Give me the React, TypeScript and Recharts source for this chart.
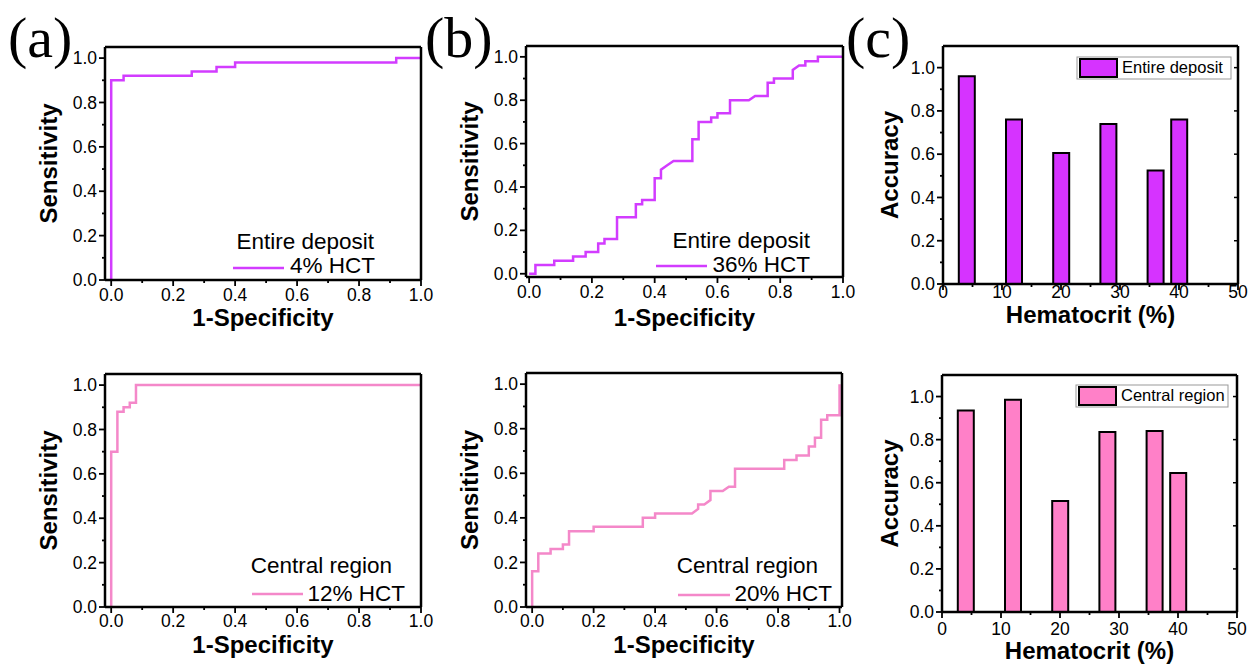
import { LineChart, Line, ComposedChart, Bar, XAxis, YAxis } from 'recharts'

// ROC curves, [1-specificity, sensitivity]
const ROC_ENTIRE_4 = [
  [0, 0], [0, 0.9], [0.04, 0.9], [0.04, 0.92], [0.26, 0.92], [0.26, 0.94], [0.34, 0.94],
  [0.34, 0.96], [0.4, 0.96], [0.4, 0.98], [0.92, 0.98], [0.92, 1], [1, 1],
]
const ROC_ENTIRE_36 = [
  [0, 0], [0.02, 0], [0.02, 0.04], [0.08, 0.04], [0.08, 0.06], [0.14, 0.06], [0.14, 0.08],
  [0.18, 0.08], [0.18, 0.1], [0.22, 0.1], [0.22, 0.14], [0.24, 0.14], [0.24, 0.16],
  [0.28, 0.16], [0.28, 0.26], [0.34, 0.26], [0.34, 0.32], [0.36, 0.32], [0.36, 0.34],
  [0.4, 0.34], [0.4, 0.44], [0.42, 0.44], [0.42, 0.48], [0.44, 0.5], [0.46, 0.52],
  [0.52, 0.52], [0.52, 0.62], [0.54, 0.62], [0.54, 0.7], [0.58, 0.7], [0.58, 0.72],
  [0.6, 0.72], [0.6, 0.74], [0.64, 0.74], [0.64, 0.8], [0.7, 0.8], [0.72, 0.82],
  [0.76, 0.82], [0.76, 0.88], [0.78, 0.88], [0.78, 0.9], [0.84, 0.9], [0.84, 0.94],
  [0.86, 0.96], [0.88, 0.96], [0.88, 0.98], [0.92, 0.98], [0.92, 1], [1, 1],
]
const ROC_CENTRAL_12 = [
  [0, 0], [0, 0.7], [0.02, 0.7], [0.02, 0.88], [0.04, 0.88], [0.04, 0.9], [0.06, 0.9],
  [0.06, 0.92], [0.08, 0.92], [0.08, 1], [1, 1],
]
const ROC_CENTRAL_20 = [
  [0, 0], [0, 0.16], [0.02, 0.16], [0.02, 0.24], [0.06, 0.24], [0.06, 0.26], [0.1, 0.26],
  [0.1, 0.28], [0.12, 0.28], [0.12, 0.34], [0.2, 0.34], [0.2, 0.36], [0.36, 0.36],
  [0.36, 0.4], [0.4, 0.4], [0.4, 0.42], [0.52, 0.42], [0.54, 0.44], [0.54, 0.46],
  [0.56, 0.46], [0.58, 0.48], [0.58, 0.52], [0.62, 0.52], [0.64, 0.54], [0.66, 0.54],
  [0.66, 0.62], [0.82, 0.62], [0.82, 0.66], [0.86, 0.66], [0.86, 0.68], [0.9, 0.68],
  [0.9, 0.72], [0.92, 0.72], [0.92, 0.76], [0.94, 0.76], [0.94, 0.84], [0.96, 0.84],
  [0.96, 0.86], [1, 0.86], [1, 1],
]

// accuracy vs hematocrit
const HCT_LEVELS = [4, 12, 20, 28, 36, 40]
const ACC_ENTIRE = [0.96, 0.76, 0.605, 0.74, 0.525, 0.76]
const ACC_CENTRAL = [0.935, 0.985, 0.515, 0.835, 0.84, 0.645]

const UNIT_TICKS = [0, 0.1, 0.2, 0.3, 0.4, 0.5, 0.6, 0.7, 0.8, 0.9, 1.0]
const UNIT_MAJOR = [0, 0.2, 0.4, 0.6, 0.8, 1.0]
const HCT_TICKS = [0, 5, 10, 15, 20, 25, 30, 35, 40, 45, 50]
const HCT_MAJOR = [0, 10, 20, 30, 40, 50]

const LINE_MAGENTA = '#d23cff'
const LINE_PINK = '#f488c9'
const BAR_MAGENTA = '#d633ff'
const BAR_PINK = '#ff80c8'

const AXIS = { stroke: '#000', strokeWidth: 2.5 }
const TITLE = { fontSize: 24, fontWeight: 'bold', fill: '#000' }

const evenTenth = (v: number) => Math.round(v * 10) % 2 === 0
const tens = (v: number) => v % 10 === 0
const fix1 = (v: number) => v.toFixed(1)

function BottomTick(props: any) {
  const { x, y, payload, major, fmt, gap } = props
  const big = major(payload.value)
  return (
    <g>
      <line x1={x} x2={x} y1={y} y2={y + (big ? 6 : 3)} stroke="#000" strokeWidth={1.8} />
      {big && (
        <text x={x} y={y + gap} textAnchor="middle" fontSize={17.5} fill="#000">
          {fmt(payload.value)}
        </text>
      )}
    </g>
  )
}

function LeftTick(props: any) {
  const { x, y, payload, major } = props
  const big = major(payload.value)
  return (
    <g>
      <line x1={x} x2={x - (big ? 6 : 3)} y1={y} y2={y} stroke="#000" strokeWidth={1.8} />
      {big && (
        <text x={x - 8} y={y} dy="0.35em" textAnchor="end" fontSize={17.5} fill="#000">
          {fix1(payload.value)}
        </text>
      )}
    </g>
  )
}

const TopInTick = (props: any) => (
  <line x1={props.x} x2={props.x} y1={props.y} y2={props.y + 4} stroke="#000" strokeWidth={1.5} />
)
const RightInTick = (props: any) => (
  <line x1={props.x} x2={props.x - 4} y1={props.y} y2={props.y} stroke="#000" strokeWidth={1.5} />
)

interface PanelProps {
  box: number[] // left, top, width, height of the chart on the page
  plot: number[] // x0, y0, x1, y1 of the plot frame on the page
  tickGap: number
  xTitleBase: number
  yTitleX: number
}

interface RocProps extends PanelProps {
  data: number[][]
  color: string
  xMin: number
  xMax: number
  yMin: number
}

function RocPanel({ box, plot, data, color, xMin, xMax, yMin, tickGap, xTitleBase, yTitleX }: RocProps) {
  const [L, T, W, H] = box
  const [x0, y0, x1, y1] = plot
  const rows = data.map(([fpr, tpr]) => ({ fpr, tpr }))
  return (
    <div style={{ position: 'absolute', left: L, top: T }}>
      <LineChart
        width={W}
        height={H}
        data={rows}
        margin={{ top: y0 - T - 1, right: L + W - x1 - 1, left: 0, bottom: 0 }}
      >
        <XAxis
          dataKey="fpr"
          type="number"
          domain={[xMin, xMax]}
          allowDataOverflow
          ticks={UNIT_TICKS}
          interval={0}
          height={T + H - y1}
          tickSize={0}
          tickMargin={0}
          axisLine={AXIS}
          tickLine={false}
          tick={(p: any) => <BottomTick {...p} major={evenTenth} fmt={fix1} gap={tickGap} />}
          label={{ value: '1-Specificity', position: 'insideBottom', offset: T + H - xTitleBase, ...TITLE }}
        />
        <XAxis
          xAxisId="top"
          orientation="top"
          type="number"
          domain={[xMin, xMax]}
          allowDataOverflow
          ticks={UNIT_MAJOR}
          height={1}
          axisLine={AXIS}
          tickLine={false}
          tick={false}
        />
        <YAxis
          type="number"
          domain={[yMin, 1.05]}
          allowDataOverflow
          ticks={UNIT_TICKS}
          interval={0}
          width={x0 - L}
          tickSize={0}
          tickMargin={0}
          axisLine={AXIS}
          tickLine={false}
          tick={(p: any) => <LeftTick {...p} major={evenTenth} />}
          label={{
            value: 'Sensitivity',
            angle: -90,
            position: 'insideLeft',
            offset: yTitleX - L,
            style: { textAnchor: 'middle' },
            ...TITLE,
          }}
        />
        <YAxis
          yAxisId="right"
          orientation="right"
          type="number"
          domain={[yMin, 1.05]}
          allowDataOverflow
          ticks={UNIT_MAJOR}
          width={1}
          axisLine={AXIS}
          tickLine={false}
          tick={false}
        />
        <Line
          dataKey="tpr"
          type="linear"
          stroke={color}
          strokeWidth={2.5}
          dot={false}
          activeDot={false}
          isAnimationActive={false}
        />
      </LineChart>
    </div>
  )
}

interface BarProps extends PanelProps {
  values: number[]
  fill: string
}

function AccuracyPanel({ box, plot, values, fill, tickGap, xTitleBase, yTitleX }: BarProps) {
  const [L, T, W, H] = box
  const [x0, y0, x1, y1] = plot
  const rows = HCT_LEVELS.map((hct, i) => ({ hct, acc: values[i] }))
  return (
    <div style={{ position: 'absolute', left: L, top: T }}>
      <ComposedChart
        width={W}
        height={H}
        data={rows}
        margin={{ top: y0 - T - 1, right: L + W - x1 - 1, left: 0, bottom: 0 }}
      >
        <XAxis
          dataKey="hct"
          type="number"
          domain={[0, 50]}
          allowDataOverflow
          ticks={HCT_TICKS}
          interval={0}
          height={T + H - y1}
          tickSize={0}
          tickMargin={0}
          axisLine={AXIS}
          tickLine={false}
          tick={(p: any) => <BottomTick {...p} major={tens} fmt={String} gap={tickGap} />}
          label={{ value: 'Hematocrit (%)', position: 'insideBottom', offset: T + H - xTitleBase, ...TITLE }}
        />
        <XAxis
          xAxisId="top"
          orientation="top"
          type="number"
          domain={[0, 50]}
          allowDataOverflow
          ticks={HCT_MAJOR}
          interval={0}
          height={1}
          tickSize={0}
          tickMargin={0}
          axisLine={AXIS}
          tickLine={false}
          tick={(p: any) => <TopInTick {...p} />}
        />
        <YAxis
          type="number"
          domain={[0, 1.1]}
          allowDataOverflow
          ticks={UNIT_TICKS}
          interval={0}
          width={x0 - L}
          tickSize={0}
          tickMargin={0}
          axisLine={AXIS}
          tickLine={false}
          tick={(p: any) => <LeftTick {...p} major={evenTenth} />}
          label={{
            value: 'Accuracy',
            angle: -90,
            position: 'insideLeft',
            offset: yTitleX - L,
            style: { textAnchor: 'middle' },
            ...TITLE,
          }}
        />
        <YAxis
          yAxisId="right"
          orientation="right"
          type="number"
          domain={[0, 1.1]}
          allowDataOverflow
          ticks={UNIT_MAJOR}
          interval={0}
          width={1}
          tickSize={0}
          tickMargin={0}
          axisLine={AXIS}
          tickLine={false}
          tick={(p: any) => <RightInTick {...p} />}
        />
        <Bar dataKey="acc" fill={fill} stroke="#000" strokeWidth={2} barSize={16} isAnimationActive={false} />
      </ComposedChart>
    </div>
  )
}

function RocKey({ title, titleEnd, titleBase, label, labelEnd, labelBase, lineX, lineY, color }: any) {
  return (
    <g fontSize={22.5} fill="#000">
      <text x={titleEnd} y={titleBase} textAnchor="end">{title}</text>
      <line x1={lineX[0]} x2={lineX[1]} y1={lineY} y2={lineY} stroke={color} strokeWidth={2.5} />
      <text x={labelEnd} y={labelBase} textAnchor="end">{label}</text>
    </g>
  )
}

function BarKey({ x, y, w, label, fill }: any) {
  return (
    <g>
      <rect x={x} y={y} width={w} height={22} fill="#fff" stroke="#999" strokeWidth={1} />
      <rect x={x + 3} y={y + 2} width={37} height={18} fill={fill} stroke="#000" strokeWidth={2} />
      <text x={x + 45} y={y + 16} fontSize={16.5} fill="#000">{label}</text>
    </g>
  )
}

export default function App() {
  return (
    <div
      style={{
        position: 'absolute',
        left: 0,
        top: 0,
        width: 1256,
        height: 664,
        background: '#fff',
        fontFamily: '"Liberation Sans", Arial, sans-serif',
      }}
    >
      <RocPanel box={[0, 40, 440, 300]} plot={[105, 47, 421, 280]} data={ROC_ENTIRE_4} color={LINE_MAGENTA}
        xMin={-0.02} xMax={1} yMin={0} tickGap={21} xTitleBase={326} yTitleX={48.5} />
      <RocPanel box={[420, 40, 440, 300]} plot={[526, 46, 843, 277]} data={ROC_ENTIRE_36} color={LINE_MAGENTA}
        xMin={-0.01} xMax={1} yMin={-0.015} tickGap={21} xTitleBase={326} yTitleX={469.5} />
      <RocPanel box={[0, 360, 440, 304]} plot={[105, 374, 421, 607]} data={ROC_CENTRAL_12} color={LINE_PINK}
        xMin={-0.02} xMax={1} yMin={0} tickGap={20} xTitleBase={653} yTitleX={48.5} />
      <RocPanel box={[420, 360, 440, 304]} plot={[526, 373, 842, 607]} data={ROC_CENTRAL_20} color={LINE_PINK}
        xMin={-0.02} xMax={1.008} yMin={0} tickGap={20} xTitleBase={653} yTitleX={469.5} />
      <AccuracyPanel box={[860, 30, 396, 320]} plot={[943, 46, 1238, 284]} values={ACC_ENTIRE} fill={BAR_MAGENTA}
        tickGap={14} xTitleBase={323} yTitleX={889} />
      <AccuracyPanel box={[860, 360, 396, 304]} plot={[942, 375, 1237, 612]} values={ACC_CENTRAL} fill={BAR_PINK}
        tickGap={23} xTitleBase={659} yTitleX={889} />

      <svg width={1256} height={664} style={{ position: 'absolute', left: 0, top: 0, pointerEvents: 'none' }}>
        <g fontFamily='"Liberation Serif", serif' fontSize={58} fill="#000">
          <text x={8} y={57}>(a)</text>
          <text x={425} y={57}>(b)</text>
          <text x={846} y={57}>(c)</text>
        </g>
        <RocKey title="Entire deposit" titleEnd={374} titleBase={249} label="4% HCT" labelEnd={375} labelBase={273}
          lineX={[233, 284]} lineY={268} color={LINE_MAGENTA} />
        <RocKey title="Entire deposit" titleEnd={810} titleBase={248} label="36% HCT" labelEnd={810} labelBase={272}
          lineX={[656, 707]} lineY={266} color={LINE_MAGENTA} />
        <RocKey title="Central region" titleEnd={392} titleBase={573} label="12% HCT" labelEnd={405} labelBase={601}
          lineX={[252, 303]} lineY={594} color={LINE_PINK} />
        <RocKey title="Central region" titleEnd={818} titleBase={573} label="20% HCT" labelEnd={832} labelBase={601}
          lineX={[678, 730]} lineY={595} color={LINE_PINK} />
        <BarKey x={1077} y={57} w={154} label="Entire deposit" fill={BAR_MAGENTA} />
        <BarKey x={1076} y={385} w={152} label="Central region" fill={BAR_PINK} />
      </svg>
    </div>
  )
}
